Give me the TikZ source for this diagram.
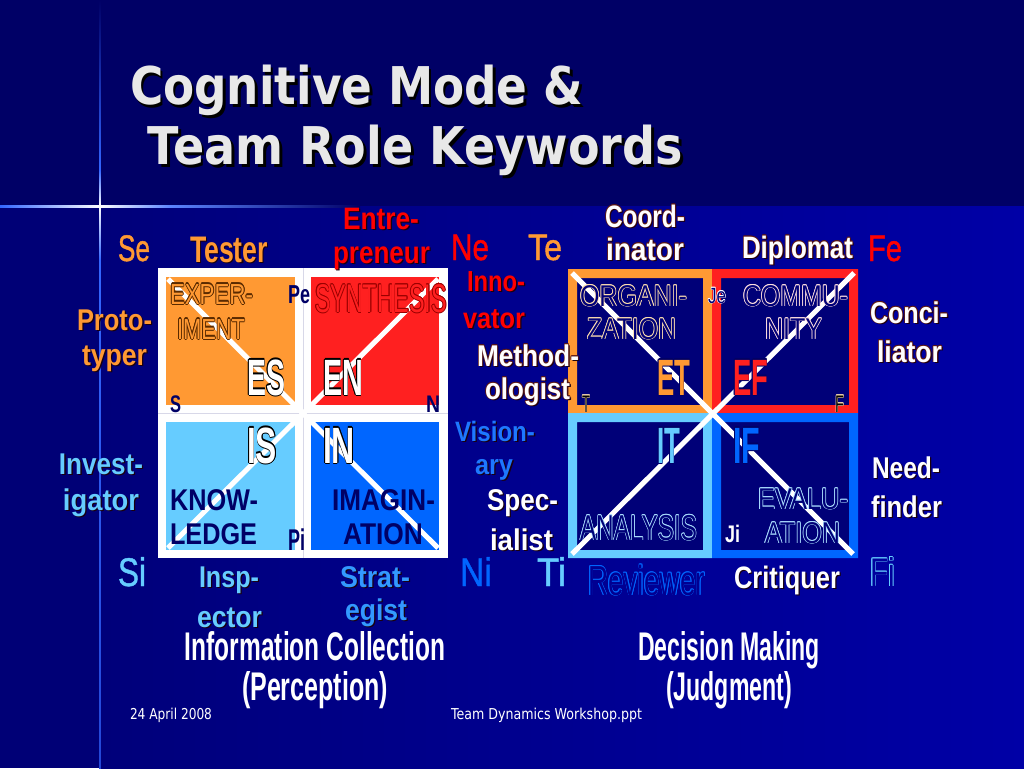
\documentclass[tikz,border=0pt]{standalone}
\usepackage{fontspec}
\usepackage{graphicx}
\setmainfont{Liberation Sans}
\newfontfamily\tfont{DejaVu Sans}
\definecolor{bgtop}{HTML}{000066}
\definecolor{bgl}{HTML}{000076}
\definecolor{bgm}{HTML}{00007A}
\definecolor{bgr}{HTML}{0000A6}
\definecolor{oc}{HTML}{FF9933}
\definecolor{rc}{HTML}{FF2020}
\definecolor{rt}{HTML}{FF0000}
\definecolor{lbc}{HTML}{66CCFF}
\definecolor{bc}{HTML}{0066FF}
\definecolor{stc}{HTML}{3399FF}
\definecolor{visc}{HTML}{1E78FF}
\definecolor{nav}{HTML}{000066}
\definecolor{inner}{HTML}{000078}
\definecolor{ttl}{HTML}{E8E8E8}
\definecolor{brn}{HTML}{5A2A00}
\definecolor{drd}{HTML}{990000}
\definecolor{shd}{HTML}{1A0010}
\definecolor{wlc}{HTML}{5A1818}
\definecolor{cream}{HTML}{FFE0B0}
\definecolor{pinkw}{HTML}{FFE0E0}
\definecolor{palb}{HTML}{AADDFF}
\definecolor{bgrev}{HTML}{000092}
\definecolor{bgfi}{HTML}{00009C}
\definecolor{gline}{HTML}{D8D8E8}
\definecolor{glow}{HTML}{3366FF}
\newdimen\olw
\newcommand\fs[1]{\fontsize{#1pt}{#1pt}\selectfont}
\newcommand\W[2]{\resizebox{#1pt}{\height}{#2}}
\newcommand\OLcore[1]{%
\rlap{\color{#1}\kern\olw\copy0}%
\rlap{\color{#1}\kern-\olw\copy0}%
\rlap{\color{#1}\raise\olw\copy0}%
\rlap{\color{#1}\lower\olw\copy0}%
\rlap{\color{#1}\kern.7\olw\raise.7\olw\copy0}%
\rlap{\color{#1}\kern.7\olw\lower.7\olw\copy0}%
\rlap{\color{#1}\kern-.7\olw\raise.7\olw\copy0}%
\rlap{\color{#1}\kern-.7\olw\lower.7\olw\copy0}}
\newcommand\OL[4][0.8pt]{{\olw=#1\relax\setbox0\hbox{#4}\OLcore{#2}{\color{#3}\box0}}}
\newcommand\OLS[5][0.8pt]{{\olw=#1\relax\setbox0\hbox{#5}%
\rlap{\color{#2}\kern1.6pt\lower1.6pt\copy0}\OLcore{#3}{\color{#4}\box0}}}
\newcommand\SH[3][1.5pt]{{\setbox0\hbox{#3}\rlap{\color{#2}\kern#1\lower#1\copy0}\box0}}
\newcommand\WL[1]{\OLS[0.8pt]{shd}{wlc}{white}{#1}}
% slightly emboldened text: [stroke width]{stroke rgb}{fill colour}{text}
\newcommand\ST[4][1]{{\color{#3}\special{pdf:literal direct 2 Tr #1 w #2 RG}#4}\special{pdf:literal direct 0 Tr}}
\newcommand\lbl[6]{\node[lb,font=#2,text=#3] (#1) at (#4) {\W{#5}{#6}};}
\begin{document}
\begin{tikzpicture}[x=1pt,y=-1pt,lb/.style={anchor=base,inner sep=0pt,outer sep=0pt}]
\useasboundingbox (0,0) rectangle (1024,768);
% background
\fill[bgtop] (0,0) rectangle (1024,768);
\fill[bgl] (0,206) rectangle (100,768);
\shade[left color=bgm, right color=bgr] (100,206) rectangle (1024,768);
% glow lines
\shade[top color=bgtop, bottom color=glow] (99.2,0) rectangle (100.8,170);
\shade[top color=glow, bottom color=white] (99.2,170) rectangle (100.8,206);
\shade[top color=white, bottom color=glow] (99.2,206) rectangle (100.8,260);
\shade[top color=glow, bottom color=glow!70!bgm] (99.2,260) rectangle (100.8,768);
\shade[left color=glow, right color=white] (0,205) rectangle (100,207);
\shade[left color=white, right color=glow!80!white] (100,205) rectangle (170,207);
\shade[left color=glow!80!white, right color=bgtop] (170,205) rectangle (360,207);
\fill[white] (100,206) circle (1.8);
% title
\node[lb,font=\tfont\bfseries\fs{52},text=ttl] (title1) at (356.5,104) {\W{453}{\SH[3pt]{black}{Cognitive Mode \&}}};
\node[lb,font=\tfont\bfseries\fs{52},text=ttl] (title2) at (415.5,164) {\W{535}{\SH[3pt]{black}{Team Role Keywords}}};
% left grid
\fill[white] (158,268) rectangle (448,558);
\draw[gline, line width=1pt] (303,268) -- (303,558);
\draw[gline, line width=1pt] (158,413.5) -- (448,413.5);
\fill[oc] (166,277) rectangle (295,405);
\fill[rc] (311,277) rectangle (439,405);
\fill[lbc] (166,422) rectangle (295,550);
\fill[bc] (311,422) rectangle (439,550);
\draw[white, line width=5pt] (168,279) -- (438,548);
\draw[white, line width=5pt] (438,279) -- (168,548);
% right grid
\fill[inner] (568,269) rectangle (858,558);
\fill[oc, even odd rule] (568,269) rectangle (712,413) (577,278) rectangle (703,405);
\fill[rc, even odd rule] (712,269) rectangle (858,413) (721,278) rectangle (849,405);
\fill[lbc, even odd rule] (568,413) rectangle (712,558) (577,422) rectangle (703,550);
\fill[bc, even odd rule] (712,413) rectangle (858,558) (721,422) rectangle (849,550);
\draw[white, line width=5pt] (572,273) -- (853,554);
\draw[white, line width=5pt] (854,273) -- (572,554);
% top labels
\lbl{se}{\fs{37}}{oc}{134,261}{32}{\ST[0.45]{1 0.6 0.2}{oc}{Se}}
\lbl{tester}{\bfseries\fs{37}}{oc}{229,262}{78}{\SH{shd}{Tester}}
\lbl{entre1}{\bfseries\fs{31}}{rt}{381,229}{76}{\SH{shd}{Entre-}}
\lbl{entre2}{\bfseries\fs{31}}{rt}{381.5,263}{97}{\SH{shd}{preneur}}
\lbl{ne}{\fs{37}}{rt}{470,260}{38}{\ST[0.45]{1 0 0}{rt}{Ne}}
\lbl{te}{\fs{37}}{oc}{545,260}{34}{\ST[0.45]{1 0.6 0.2}{oc}{Te}}
\lbl{coord1}{\bfseries\fs{31}}{white}{645,227}{80}{\WL{Coord-}}
\lbl{coord2}{\bfseries\fs{31}}{white}{645,260}{78}{\WL{inator}}
\lbl{dipl}{\bfseries\fs{31}}{white}{797.5,258}{111}{\WL{Diplomat}}
\lbl{fe}{\fs{37}}{rt}{885,261}{34}{\ST[0.45]{1 0 0}{rt}{Fe}}
% side labels
\lbl{proto1}{\bfseries\fs{30}}{oc}{114.5,330}{75}{\SH{shd}{Proto-}}
\lbl{proto2}{\bfseries\fs{30}}{oc}{114.5,365}{65}{\SH{shd}{typer}}
\lbl{conc1}{\bfseries\fs{30}}{white}{909,323}{78}{\WL{Conci-}}
\lbl{conc2}{\bfseries\fs{30}}{white}{909.5,362}{65}{\WL{liator}}
\lbl{inno1}{\bfseries\fs{29}}{rt}{496,291}{58}{\SH{shd}{Inno-}}
\lbl{inno2}{\bfseries\fs{29}}{rt}{494,328}{62}{\SH{shd}{vator}}
\lbl{meth1}{\bfseries\fs{30}}{white}{528,366}{102}{\WL{Method-}}
\lbl{meth2}{\bfseries\fs{30}}{white}{527.5,399}{85}{\WL{ologist}}
\lbl{vis1}{\bfseries\fs{28}}{visc}{495,441}{80}{\SH{shd}{Vision-}}
\lbl{vis2}{\bfseries\fs{28}}{visc}{494,474}{38}{\SH{shd}{ary}}
\lbl{inv1}{\bfseries\fs{30}}{lbc}{101,474}{84}{\SH{shd}{Invest-}}
\lbl{inv2}{\bfseries\fs{30}}{lbc}{101,510}{76}{\SH{shd}{igator}}
\lbl{need1}{\bfseries\fs{30}}{white}{906,478}{68}{\SH{shd}{Need-}}
\lbl{need2}{\bfseries\fs{30}}{white}{906.5,517}{71}{\SH{shd}{finder}}
\lbl{spec1}{\bfseries\fs{30}}{white}{522.5,510}{71}{\SH{shd}{Spec-}}
\lbl{spec2}{\bfseries\fs{30}}{white}{521.5,550}{63}{\SH{shd}{ialist}}
% bottom labels
\lbl{si}{\fs{40}}{lbc}{132,586}{28}{\ST[0.45]{0.4 0.8 1}{lbc}{Si}}
\lbl{insp1}{\bfseries\fs{30}}{lbc}{229,587}{60}{\SH{shd}{Insp-}}
\lbl{insp2}{\bfseries\fs{30}}{lbc}{229.5,627}{65}{\SH{shd}{ector}}
\lbl{strat1}{\bfseries\fs{30}}{stc}{375,587}{70}{\SH{shd}{Strat-}}
\lbl{strat2}{\bfseries\fs{30}}{stc}{376,620}{62}{\SH{shd}{egist}}
\lbl{ni}{\fs{40}}{bc}{476,586}{32}{\ST[0.45]{0 0.4 1}{bc}{Ni}}
\lbl{ti}{\fs{40}}{lbc}{551.5,586}{29}{\ST[0.45]{0.4 0.8 1}{lbc}{Ti}}
\lbl{rev}{\fs{42}}{bc}{646.5,595}{117}{\OL[0.9pt]{bc}{bgrev}{Reviewer}}
\lbl{crit}{\bfseries\fs{31}}{white}{787,588}{106}{\SH{shd}{Critiquer}}
\lbl{fi}{\fs{40}}{palb}{882.5,586}{25}{\OL[0.9pt]{lbc}{bgfi}{Fi}}
% left grid texts
\lbl{exp1}{\fs{29}}{oc}{211.5,304}{83}{\OL[1.1pt]{brn}{oc}{EXPER-}}
\lbl{exp2}{\fs{29}}{oc}{211,339}{68}{\OL[1.1pt]{brn}{oc}{IMENT}}
\lbl{pe}{\bfseries\fs{26}}{nav}{299,303}{22}{Pe}
\lbl{syn}{\fs{40}}{rc}{381,312}{132}{\OL[1pt]{drd}{rc}{SYNTHESIS}}
\lbl{es}{\bfseries\fs{51}}{white}{266,395}{38}{\OL[1.2pt]{black}{white}{ES}}
\lbl{en}{\bfseries\fs{51}}{white}{343,395}{40}{\OL[1.2pt]{black}{white}{EN}}
\lbl{s}{\bfseries\fs{24}}{nav}{175.5,412}{11}{S}
\lbl{n}{\bfseries\fs{24}}{nav}{433,412}{14}{N}
\lbl{is}{\bfseries\fs{51}}{white}{262,463}{30}{\OL[1.2pt]{black}{white}{IS}}
\lbl{in}{\bfseries\fs{51}}{white}{339,463}{32}{\OL[1.2pt]{black}{white}{IN}}
\lbl{know1}{\bfseries\fs{30}}{nav}{214,510}{88}{KNOW-}
\lbl{know2}{\bfseries\fs{30}}{nav}{213.5,544}{87}{LEDGE}
\lbl{pi}{\bfseries\fs{30}}{nav}{296.5,550}{17}{Pi}
\lbl{img1}{\bfseries\fs{30}}{nav}{383.5,510}{103}{IMAGIN-}
\lbl{img2}{\bfseries\fs{30}}{nav}{383,544}{80}{ATION}
% right grid texts
\lbl{org1}{\fs{30}}{cream}{633.5,306}{107}{\OL[0.9pt]{cream}{inner}{ORGANI-}}
\lbl{org2}{\fs{30}}{cream}{631.5,339}{89}{\OL[0.9pt]{cream}{inner}{ZATION}}
\lbl{je}{\fs{22}}{white}{717,303}{18}{\OL[0.6pt]{white}{inner}{Je}}
\lbl{com1}{\fs{30}}{pinkw}{795.5,306}{105}{\OL[0.9pt]{pinkw}{inner}{COMMU-}}
\lbl{com2}{\fs{30}}{pinkw}{793.5,339}{57}{\OL[0.9pt]{pinkw}{inner}{NITY}}
\lbl{et}{\bfseries\fs{51}}{oc}{673.5,395}{33}{\OL[1.1pt]{nav}{oc}{ET}}
\lbl{ef}{\bfseries\fs{51}}{rc}{750.5,395}{35}{\OL[1.1pt]{nav}{rc}{EF}}
\lbl{tt}{\fs{24}}{cream}{586,412}{8}{\OL[0.6pt]{cream}{black}{T}}
\lbl{ff}{\fs{24}}{cream}{839.5,412}{9}{\OL[0.6pt]{cream}{black}{F}}
\lbl{it}{\bfseries\fs{51}}{lbc}{668.5,463}{23}{\OL[1.1pt]{nav}{lbc}{IT}}
\lbl{if}{\bfseries\fs{51}}{bc}{746.5,463}{27}{\OL[1.1pt]{nav}{bc}{IF}}
\lbl{ana}{\fs{36}}{palb}{638.5,540}{117}{\OL[0.9pt]{palb}{inner}{ANALYSIS}}
\lbl{ji}{\bfseries\fs{24}}{white}{732.5,542}{15}{Ji}
\lbl{eva1}{\fs{30}}{palb}{803,509}{90}{\OL[0.9pt]{palb}{inner}{EVALU-}}
\lbl{eva2}{\fs{30}}{palb}{802.5,543}{75}{\OL[0.9pt]{palb}{inner}{ATION}}
% captions
\lbl{info1}{\bfseries\fs{40}}{white}{315,660}{260}{Information Collection}
\lbl{info2}{\bfseries\fs{40}}{white}{315,700}{146}{(Perception)}
\lbl{dec1}{\bfseries\fs{40}}{white}{729,660}{182}{Decision Making}
\lbl{dec2}{\bfseries\fs{40}}{white}{729,700}{126}{(Judgment)}
\lbl{date}{\tfont\fs{15}}{white}{171,719}{82}{24 April 2008}
\lbl{foot}{\tfont\fs{15}}{white}{546.5,719}{191}{Team Dynamics Workshop.ppt}
\end{tikzpicture}
\end{document}
